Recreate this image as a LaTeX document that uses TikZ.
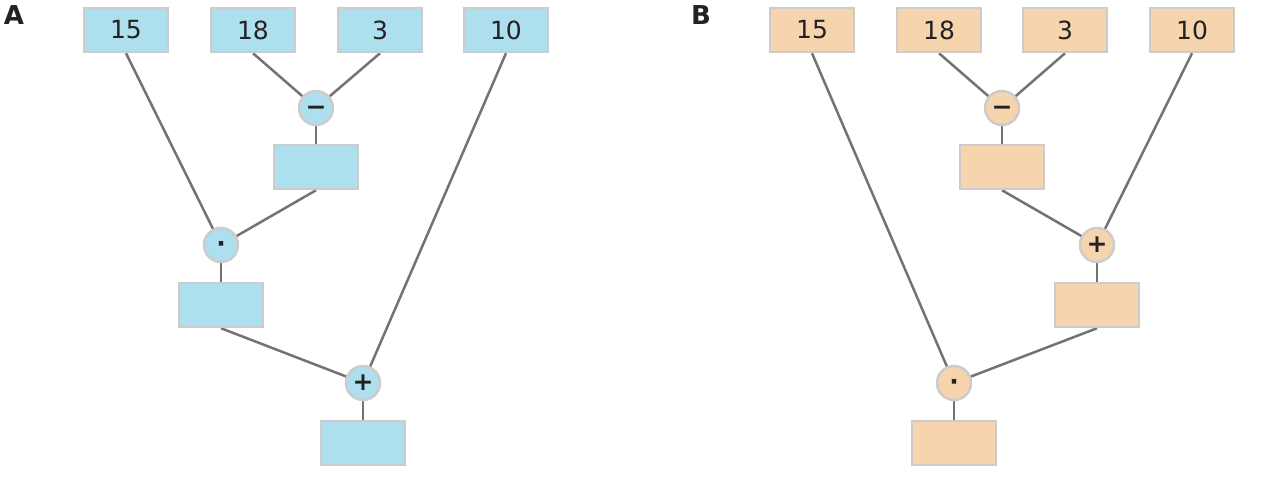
\documentclass[tikz,border=0pt]{standalone}
\usepackage{fontspec}
\setmainfont{DejaVu Sans}
\usetikzlibrary{backgrounds}
\definecolor{bluefill}{HTML}{AEDFEE}
\definecolor{orangefill}{HTML}{F6D4AE}
\definecolor{bordergray}{HTML}{CCCCCC}
\definecolor{linegray}{HTML}{737373}
\definecolor{txt}{HTML}{222222}
\tikzset{
  valbox/.style={draw=bordergray, line width=2.5pt, minimum width=84pt, minimum height=44pt, inner sep=0pt, text=txt, font=\fontsize{25}{30}\selectfont},
  opcirc/.style={circle, draw=bordergray, line width=2.5pt, minimum size=34pt, inner sep=0pt, text=txt, font=\fontsize{25}{30}\selectfont\bfseries},
  conn/.style={draw=linegray, line width=2.5pt},
  panel/.style={text=txt, font=\fontsize{26}{30}\selectfont\bfseries, anchor=center},
  A/.style={fill=bluefill},
  B/.style={fill=orangefill}
}
\newcommand{\opsym}[1]{\vphantom{+}#1}
\begin{document}
\begin{tikzpicture}[x=1pt,y=-1pt]
\useasboundingbox (0,0) rectangle (1262,487);
% Panel A
\node[panel] (labA) at (14,15) {A};
\node[valbox,A] (a15) at (126,30) {15};
\node[valbox,A] (a18) at (253,30) {18};
\node[valbox,A] (a3) at (380,30) {3};
\node[valbox,A] (a10) at (506,30) {10};
\node[opcirc,A] (aminus) at (316,108) {\opsym{−}};
\node[valbox,A] (ar1) at (316,167) {};
\node[opcirc,A] (atimes) at (221,245) {\opsym{·}};
\node[valbox,A] (ar2) at (221,305) {};
\node[opcirc,A] (aplus) at (363,383) {\opsym{+}};
\node[valbox,A] (ar3) at (363,443) {};
% Panel B
\node[panel] (labB) at (701,15) {B};
\node[valbox,B] (b15) at (812,30) {15};
\node[valbox,B] (b18) at (939,30) {18};
\node[valbox,B] (b3) at (1065,30) {3};
\node[valbox,B] (b10) at (1192,30) {10};
\node[opcirc,B] (bminus) at (1002,108) {\opsym{−}};
\node[valbox,B] (br1) at (1002,167) {};
\node[opcirc,B] (bplus) at (1097,245) {\opsym{+}};
\node[valbox,B] (br2) at (1097,305) {};
\node[opcirc,B] (btimes) at (954,383) {\opsym{·}};
\node[valbox,B] (br3) at (954,443) {};
\begin{scope}[on background layer]
\draw[conn] (a18.south) -- (aminus.center);
\draw[conn] (a3.south) -- (aminus.center);
\draw[conn] (aminus.center) -- (ar1.center);
\draw[conn] (a15.south) -- (atimes.center);
\draw[conn] (ar1.south) -- (atimes.center);
\draw[conn] (atimes.center) -- (ar2.center);
\draw[conn] (ar2.south) -- (aplus.center);
\draw[conn] (a10.south) -- (aplus.center);
\draw[conn] (aplus.center) -- (ar3.center);
\draw[conn] (b18.south) -- (bminus.center);
\draw[conn] (b3.south) -- (bminus.center);
\draw[conn] (bminus.center) -- (br1.center);
\draw[conn] (br1.south) -- (bplus.center);
\draw[conn] (b10.south) -- (bplus.center);
\draw[conn] (bplus.center) -- (br2.center);
\draw[conn] (b15.south) -- (btimes.center);
\draw[conn] (br2.south) -- (btimes.center);
\draw[conn] (btimes.center) -- (br3.center);
\end{scope}
\end{tikzpicture}
\end{document}
